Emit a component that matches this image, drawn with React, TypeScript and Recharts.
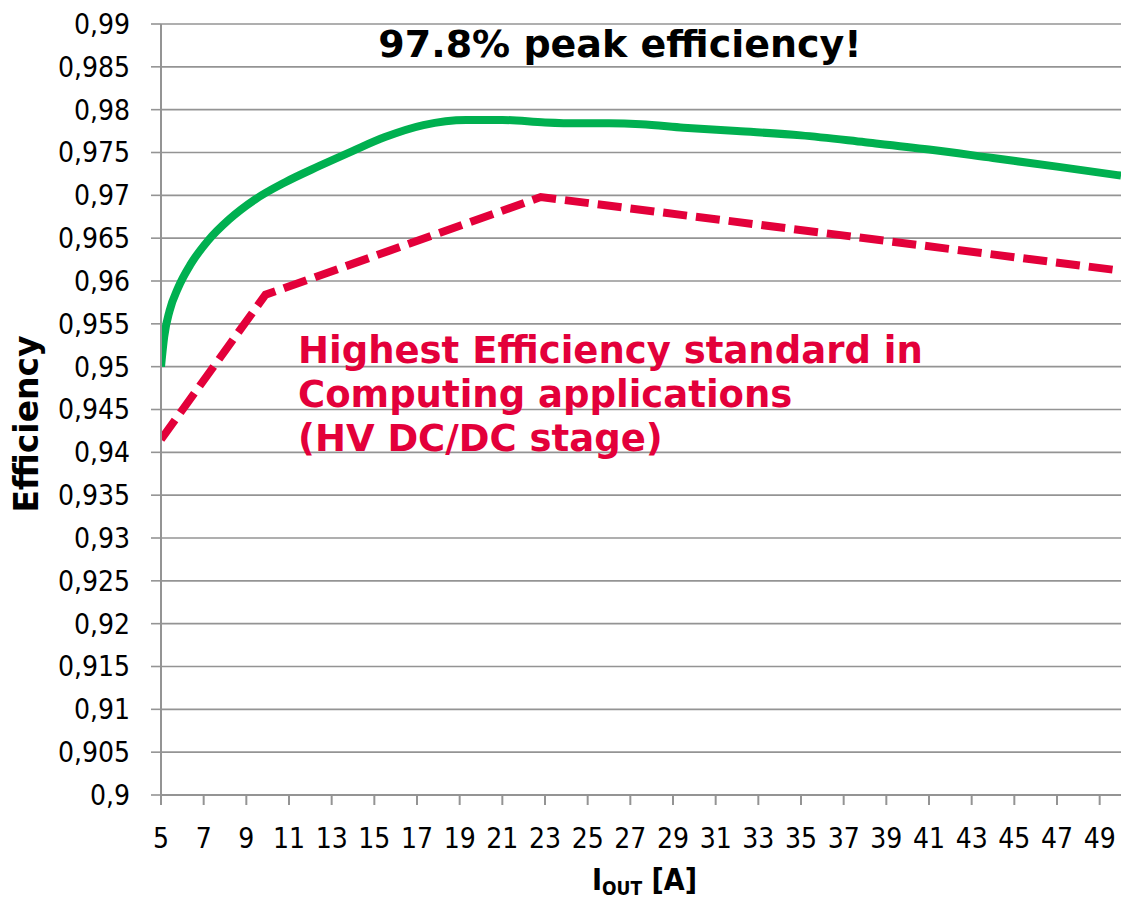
import React from "react";
import { LineChart, Line, XAxis, YAxis, CartesianGrid } from "recharts";

const greenX = [5, 5.15, 5.4, 5.8, 6.4, 7.2, 8.2, 9.4, 10.8, 12.4, 14, 15.5, 17.3, 19.3, 21, 23, 24.5, 26, 27.5, 29.5, 32, 35, 38, 41, 44, 47, 50];
const greenY = [0.95, 0.9535, 0.9565, 0.9592, 0.962, 0.9647, 0.9672, 0.9695, 0.9715, 0.9734, 0.9752, 0.9768, 0.9782, 0.9788, 0.9788, 0.9785, 0.9784, 0.9784, 0.9783, 0.9779, 0.9775, 0.977, 0.9762, 0.97535, 0.97435, 0.97335, 0.9723];

const redX = [5, 9.9, 22.8, 50];
const redY = [0.9415, 0.9584, 0.9698, 0.9612];

const xTicks = [5, 7, 9, 11, 13, 15, 17, 19, 21, 23, 25, 27, 29, 31, 33, 35, 37, 39, 41, 43, 45, 47, 49];
const yTicks = [0.9, 0.905, 0.91, 0.915, 0.92, 0.925, 0.93, 0.935, 0.94, 0.945, 0.95, 0.955, 0.96, 0.965, 0.97, 0.975, 0.98, 0.985, 0.99];

const titleText = "97.8% peak efficiency!";
const noteLines = ["Highest Efficiency standard in", "Computing applications", "(HV DC/DC stage)"];
const yTitle = "Efficiency";

const greenData = greenX.map((x, i) => ({ x, y: greenY[i] }));
const redData = redX.map((x, i) => ({ x, y: redY[i] }));

const COND = "'DejaVu Sans Condensed', 'DejaVu Sans', sans-serif";
const WIDE = "'DejaVu Sans', Verdana, sans-serif";
const GRID = "#949494";
const RED = "#E3003A";
const GREEN = "#00B050";

const fmtY = (v: number) => String(parseFloat(v.toFixed(3))).replace(".", ",");

export default function App() {
  return (
    <div style={{ position: "absolute", left: 0, top: 0, width: 1124, height: 900, background: "#fff" }}>
      <LineChart width={1124} height={900} margin={{ top: 24, right: 3, left: 0, bottom: 0 }}>
        <CartesianGrid horizontal vertical={false} stroke={GRID} strokeWidth={1.6} />
        <XAxis
          dataKey="x"
          type="number"
          domain={[5, 50]}
          ticks={xTicks}
          interval={0}
          height={105}
          tickSize={10}
          tickMargin={23}
          axisLine={{ stroke: GRID, strokeWidth: 2 }}
          tickLine={{ stroke: GRID, strokeWidth: 2 }}
          tick={{ fontSize: 28, fill: "#000", fontFamily: COND }}
          allowDataOverflow
        />
        <YAxis
          type="number"
          domain={[0.9, 0.99]}
          ticks={yTicks}
          interval={0}
          width={161}
          tickSize={10}
          tickMargin={21}
          tickFormatter={fmtY}
          axisLine={{ stroke: GRID, strokeWidth: 2 }}
          tickLine={{ stroke: GRID, strokeWidth: 1.6 }}
          tick={{ fontSize: 28, fill: "#000", fontFamily: COND }}
          allowDataOverflow
        />
        <Line
          data={redData}
          dataKey="y"
          type="linear"
          stroke={RED}
          strokeWidth={8}
          strokeDasharray="24 9"
          dot={false}
          activeDot={false}
          isAnimationActive={false}
        />
        <Line
          data={greenData}
          dataKey="y"
          type="monotone"
          stroke={GREEN}
          strokeWidth={8}
          dot={false}
          activeDot={false}
          isAnimationActive={false}
        />
      </LineChart>
      <svg width={1124} height={900} style={{ position: "absolute", left: 0, top: 0, pointerEvents: "none" }}>
        <text x={620} y={57} textAnchor="middle" fontFamily={WIDE} fontWeight="bold" fontSize={38} fill="#000">
          {titleText}
        </text>
        {noteLines.map((t, i) => (
          <text key={i} x={298} y={363 + i * 44} fontFamily={WIDE} fontWeight="bold" fontSize={37} fill={RED}>
            {t}
          </text>
        ))}
        <text transform="translate(38,424) rotate(-90)" textAnchor="middle" fontFamily={WIDE} fontWeight="bold" fontSize={33} fill="#000">
          {yTitle}
        </text>
        <text x={592} y={890} fontFamily={COND} fontWeight="bold" fontSize={30} fill="#000">
          I
          <tspan fontSize={19} dy={5}>OUT</tspan>
          <tspan dy={-5}> [A]</tspan>
        </text>
      </svg>
    </div>
  );
}
